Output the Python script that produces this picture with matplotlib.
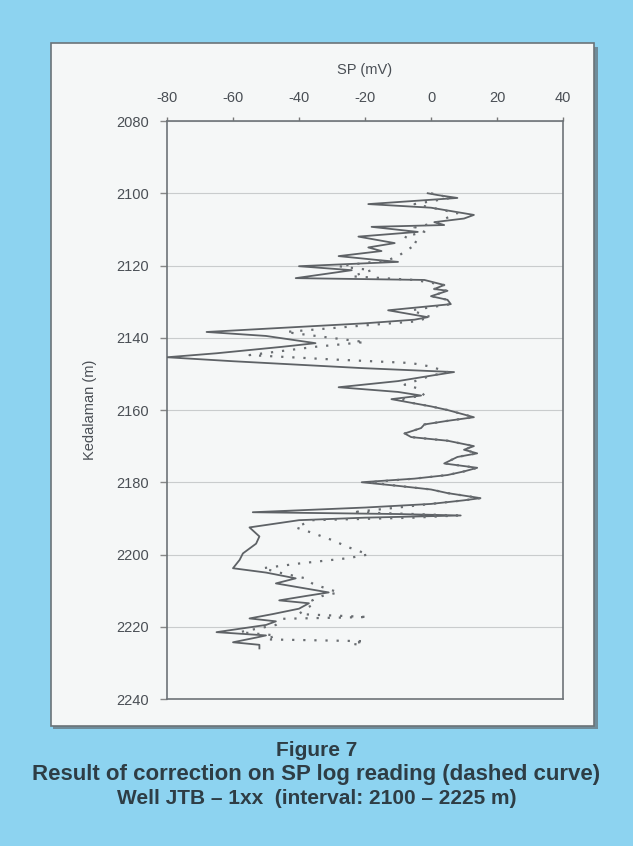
import matplotlib
matplotlib.use("Agg")
import matplotlib.pyplot as plt
from matplotlib.patches import Rectangle

plt.rcParams["axes.unicode_minus"] = False

# ---------------- data ----------------
depth_sp = [2100.0, 2100.5, 2101.3, 2103.0, 2104.0, 2106.0, 2107.0, 2108.0, 2108.8, 2109.3,
            2110.7, 2112.0, 2113.8, 2115.0, 2116.0, 2117.4, 2118.5, 2119.0, 2120.2, 2121.3,
            2123.5, 2124.0, 2125.4, 2126.5, 2127.0, 2128.5, 2129.5, 2130.7, 2132.4, 2134.3,
            2135.0, 2136.0, 2138.4, 2139.5, 2141.5, 2142.5, 2144.3, 2145.4, 2146.5, 2148.4,
            2149.5, 2150.5, 2152.0, 2153.7, 2155.0, 2156.0, 2157.0, 2158.0, 2159.0, 2160.0,
            2162.0, 2163.0, 2164.0, 2165.0, 2166.5, 2167.5, 2168.5, 2170.0, 2171.0, 2172.0,
            2173.0, 2174.8, 2176.0, 2177.0, 2178.0, 2179.0, 2180.0, 2181.0, 2182.0, 2183.0,
            2184.4, 2185.0, 2186.0, 2187.0, 2188.3, 2188.8, 2189.2, 2189.8, 2190.5, 2192.5,
            2195.0, 2197.0, 2199.7, 2201.5, 2203.8, 2205.0, 2206.6, 2208.0, 2210.5, 2211.5,
            2212.7, 2213.5, 2215.0, 2216.5, 2217.7, 2218.5, 2219.5, 2221.5, 2222.4, 2223.0,
            2224.3, 2225.0, 2226.0]
sp_raw = [-1, 2, 8, -19, 0, 13, 10, 1, 4, -18,
          -4, -22, -11, -19, -15, -28, -16, -10, -40, -24,
          -41, -2, 4, 1, 5, 0, 5, 6, -13, -1,
          -5, -20, -68, -50, -35, -45, -65, -80, -60, -21,
          7, 0, -10, -28, -10, -3, -12, -6, 0, 5,
          13, 5, -2, -3, -8, -6, 5, 13, 10, 14,
          8, 4, 14, 10, 5, -5, -21, -10, 0, 5,
          15, 10, 0, -20, -54, -10, 9, -20, -40, -55,
          -52, -53, -57, -58, -60, -50, -41, -47, -31, -38,
          -46, -37, -40, -48, -55, -47, -50, -65, -50, -53,
          -60, -52, -52]

depth_corr = [2100.0, 2101.3, 2103.0, 2105.5, 2108.0, 2109.5, 2110.7, 2112.0, 2113.8, 2115.0,
              2117.4, 2118.5, 2120.2, 2121.3, 2123.0, 2124.0, 2125.4, 2126.5, 2127.0, 2128.5,
              2129.5, 2130.7, 2132.4, 2134.3, 2135.5, 2136.5, 2138.4, 2138.8, 2141.2, 2142.5,
              2144.8, 2146.0, 2147.0, 2148.0, 2149.5, 2150.5, 2153.0, 2154.0, 2156.0, 2157.0,
              2158.0, 2159.0, 2160.0, 2162.0, 2163.0, 2164.0, 2165.0, 2166.5, 2167.5, 2168.5,
              2170.0, 2171.0, 2172.0, 2173.0, 2174.8, 2176.0, 2177.0, 2178.0, 2179.0, 2180.0,
              2181.0, 2182.0, 2183.0, 2184.4, 2185.0, 2186.0, 2187.0, 2188.3, 2188.8, 2189.2,
              2189.8, 2190.5, 2192.5, 2194.0, 2196.0, 2198.0, 2200.0, 2201.0, 2202.5, 2203.8,
              2205.0, 2206.6, 2208.0, 2209.0, 2210.5, 2211.5, 2212.7, 2213.5, 2215.0, 2216.5,
              2217.3, 2217.8, 2219.5, 2221.5, 2222.4, 2223.5, 2224.0, 2224.7, 2225.2]
sp_corr = [0, 6, -5, 8, 2, -5, -2, -8, -4, -6,
           -10, -13, -28, -18, -24, -5, 4, 1, 5, 0,
           5, 6, -6, 0, -5, -19, -44, -41, -20, -35,
           -55, -30, -6, 0, 5, 0, -8, -4, -2, -10,
           -6, 0, 5, 13, 5, -2, -3, -8, -6, 5,
           13, 10, 14, 8, 4, 14, 10, 5, -5, -19,
           -10, 0, 5, 15, 10, 0, -10, -24, -5, 8,
           -5, -36, -41, -36, -30, -25, -19, -25, -40, -51,
           -46, -38, -36, -33, -28, -33, -36, -35, -38, -40,
           -19, -45, -47, -58, -47, -50, -20, -24, -20]

x_ticks = [-80, -60, -40, -20, 0, 20, 40]
y_ticks = [2080, 2100, 2120, 2140, 2160, 2180, 2200, 2220, 2240]
x_label = "SP (mV)"
y_label = "Kedalaman (m)"
caption = ["Figure 7",
           "Result of correction on SP log reading (dashed curve)",
           "Well JTB \u2013 1xx  (interval: 2100 \u2013 2225 m)"]

# ---------------- figure ----------------
W, H = 633, 846
fig = plt.figure(figsize=(W / 100, H / 100), dpi=100)
fig.patch.set_facecolor("#8dd3f0")

def fx(px):
    return px / W

def fy(py):
    return 1 - py / H

# white panel with shadow
fig.patches.append(Rectangle((fx(53), fy(729)), fx(596 - 51), (727 - 45) / H,
                             transform=fig.transFigure, facecolor="#6f8c9a",
                             edgecolor="none", zorder=0))
fig.patches.append(Rectangle((fx(51), fy(726)), fx(594 - 51), (726 - 43) / H,
                             transform=fig.transFigure, facecolor="#f5f7f7",
                             edgecolor="#6b7378", linewidth=1.2, zorder=1))

sans = ["Liberation Sans", "DejaVu Sans"]
tick_col = "#4a4f55"

ax = fig.add_axes([fx(167), fy(699), fx(563 - 167), (699 - 121) / H])
ax.set_facecolor("none")
ax.set_zorder(3)

ax.plot(sp_raw, depth_sp, color="#5e6266", linewidth=1.3, zorder=3)
ax.plot(sp_corr, depth_corr, color="#6a6e72", linewidth=1.6,
        linestyle=(0, (1, 4)), zorder=4)

ax.set_xlim(-80, 40)
ax.set_ylim(2240, 2080)
ax.set_xticks(x_ticks)
ax.set_yticks(y_ticks)
ax.xaxis.tick_top()
ax.xaxis.set_label_position("top")
ax.tick_params(axis="x", direction="out", length=3, width=1, color="#777",
               pad=8.5, labelsize=10.5, labelcolor=tick_col)
ax.tick_params(axis="y", direction="out", length=5, width=1, color="#888",
               pad=8, labelsize=10.5, labelcolor=tick_col)
for lab in ax.get_xticklabels() + ax.get_yticklabels():
    lab.set_family(sans)

ax.grid(axis="y", color="#c9cccd", linewidth=0.8)
ax.set_axisbelow(True)
for s in ax.spines.values():
    s.set_color("#6e7478")
    s.set_linewidth(1.2)

ax.set_xlabel(x_label, family=sans, fontsize=10.5, color=tick_col, labelpad=12)
ax.set_ylabel(y_label, family=sans, fontsize=10.5, color=tick_col, labelpad=14)

cap_col = "#2e3d45"
cap_sizes = [15, 16, 15]
cap_y = [750, 774, 798]
for txt, size, yy in zip(caption, cap_sizes, cap_y):
    fig.text(0.5, fy(yy), txt, ha="center", va="center", family=sans,
             fontweight="bold", fontsize=size, color=cap_col)

fig.savefig("out.png", dpi=100, facecolor=fig.get_facecolor())
